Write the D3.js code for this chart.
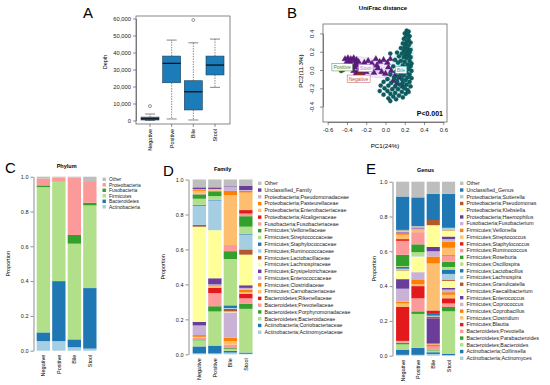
<!DOCTYPE html>
<html>
<head>
<meta charset="utf-8">
<script src="https://cdn.jsdelivr.net/npm/d3@7"></script>
<style>
body { margin: 0; background: #fff; }
svg { font-family: "Liberation Sans", Arial, sans-serif; }
</style>
</head>
<body>
<script>
var width = 550, height = 385;

var groups = ["Negative", "Positive", "Bile", "Stool"];

// A: sequencing depth (boxplot stats)
var depthMin = [0, 900, 300, 19500];
var depthQ1 = [300, 22200, 6200, 26800];
var depthMedian = [1000, 33600, 16900, 32600];
var depthQ3 = [2000, 37900, 23400, 37900];
var depthMax = [3800, 47300, 45700, 47900];
var depthOutliers = [[8500], [], [59100], []];
var depthTicks = [0, 10000, 20000, 30000, 40000, 50000, 60000];

// B: PCoA coordinates [PC1, PC2]
var bilePoints = [
  [0.22,0.43],[0.24,0.42],[0.20,0.40],[0.23,0.39],[0.25,0.37],[0.21,0.36],[0.19,0.34],[0.24,0.33],
  [0.22,0.31],[0.26,0.30],[0.18,0.29],[0.21,0.28],[0.24,0.27],[0.20,0.25],[0.16,0.24],[0.23,0.23],
  [0.26,0.22],[0.19,0.21],[0.22,0.20],[0.25,0.19],[0.17,0.18],[0.21,0.17],[0.24,0.16],[0.14,0.15],
  [0.19,0.14],[0.26,0.14],[0.22,0.13],[0.05,0.18],[0.12,0.19],
  [0.10,0.11],[0.16,0.10],[0.25,0.10],[0.20,0.09],[0.13,0.08],[0.27,0.07],[0.23,0.06],[0.18,0.05],
  [0.08,0.04],[0.26,0.04],[0.21,0.03],[0.14,0.02],[0.24,0.01],[0.19,0.00],[0.27,-0.01],[0.11,-0.02],
  [0.22,-0.03],[0.16,-0.04],[0.25,-0.05],[0.05,-0.05],[0.19,-0.06],[0.13,-0.07],[0.23,-0.08],
  [0.27,-0.09],[0.09,-0.09],[0.02,-0.10],[0.17,-0.10],
  [0.21,-0.11],[0.12,-0.12],[0.25,-0.13],[-0.02,-0.13],[0.06,-0.14],[0.18,-0.14],[0.15,-0.16],
  [0.22,-0.16],[0.03,-0.17],[-0.05,-0.17],[0.10,-0.18],[0.26,-0.18],[0.19,-0.19],[-0.01,-0.20],
  [0.07,-0.21],[0.13,-0.21],[0.23,-0.22],[0.02,-0.23],[-0.06,-0.23],[0.17,-0.24],[0.10,-0.25],
  [0.05,-0.26],[0.21,-0.26],[-0.02,-0.27],[0.14,-0.28],[0.08,-0.29],[0.03,-0.31],[0.18,-0.30],
  [0.11,-0.32],[0.05,-0.34],[0.20,-0.20],[0.24,-0.24]
];
var stoolPoints = [
  [-0.42,0.12],[-0.39,0.13],[-0.36,0.12],[-0.33,0.13],[-0.30,0.11],[-0.40,0.09],[-0.37,0.08],
  [-0.34,0.10],[-0.31,0.07],[-0.28,0.09],[-0.38,0.05],[-0.35,0.04],[-0.32,0.03],[-0.29,0.05],
  [-0.26,0.02],[-0.33,-0.01],[-0.30,-0.03],[-0.27,-0.02],[-0.24,-0.04],[-0.31,-0.05],
  [-0.22,0.08],[-0.18,0.10],[-0.14,0.07],[-0.10,0.12],[-0.06,0.09],[-0.02,0.11],[0.02,0.08],
  [0.05,0.12],[-0.16,0.03],[-0.08,0.02],[-0.20,-0.02],[-0.12,-0.03],[-0.04,-0.02],[0.00,-0.04],
  [0.06,-0.01],[0.10,-0.06],[0.08,-0.12],[0.12,-0.15],[0.15,-0.08],[0.18,-0.18],[-0.09,0.05],
  [0.03,0.03]
];
var negativePoints = [[-0.27,-0.04],[-0.25,-0.05],[-0.28,-0.06]];
var positivePoints = [[-0.46,-0.01],[-0.44,0.0]];
var pc1Ticks = [-0.6, -0.4, -0.2, 0, 0.2, 0.4, 0.6];
var pc2Ticks = [-0.4, -0.2, 0, 0.2, 0.4];

// C: phylum (bottom to top)
var phylumNames = ["Actinobacteria", "Bacteroidetes", "Firmicutes", "Fusobacteria", "Proteobacteria", "Other"];
var phylumNegative = [0.055, 0.05, 0.835, 0.01, 0.04, 0.01];
var phylumPositive = [0.055, 0.345, 0.57, 0.002, 0.023, 0.005];
var phylumBile = [0.02, 0.045, 0.55, 0.05, 0.33, 0.005];
var phylumStool = [0.012, 0.348, 0.475, 0.015, 0.125, 0.025];

// D: family (bottom to top)
var familyNames = [
  "Actinobacteria;Actinomycetaceae", "Actinobacteria;Coriobacteriaceae",
  "Bacteroidetes;Bacteroidaceae", "Bacteroidetes;Porphyromonadaceae",
  "Bacteroidetes;Prevotellaceae", "Bacteroidetes;Rikenellaceae",
  "Firmicutes;Carnobacteriaceae", "Firmicutes;Clostridiaceae",
  "Firmicutes;Enterococcaceae", "Firmicutes;Erysipelotrichaceae",
  "Firmicutes;Lachnospiraceae", "Firmicutes;Lactobacillaceae",
  "Firmicutes;Ruminococcaceae", "Firmicutes;Staphylococcaceae",
  "Firmicutes;Streptococcaceae", "Firmicutes;Veillonellaceae",
  "Fusobacteria;Fusobacteriaceae", "Proteobacteria;Alcaligenaceae",
  "Proteobacteria;Enterobacteriaceae", "Proteobacteria;Pasteurellaceae",
  "Proteobacteria;Pseudomonadaceae", "Unclassified_Family", "Other"
];
var familyNegative = [0.005, 0.04, 0.035, 0.005, 0.01, 0, 0.005, 0.01, 0.055, 0.02, 0.545, 0.01, 0.11, 0.005, 0.035, 0.025, 0.005, 0, 0.015, 0.005, 0.005, 0.01, 0.045];
var familyPositive = [0.005, 0.045, 0.195, 0.03, 0.075, 0.03, 0.01, 0.005, 0.005, 0.035, 0.275, 0, 0.17, 0.003, 0.022, 0.025, 0.002, 0.003, 0.005, 0.003, 0.003, 0.009, 0.045];
var familyBile = [0.01, 0.01, 0.01, 0.005, 0.02, 0, 0.02, 0.02, 0.145, 0, 0.005, 0.015, 0.005, 0.015, 0.265, 0.045, 0.035, 0, 0.285, 0.025, 0.025, 0.003, 0.037];
var familyStool = [0.003, 0.007, 0.25, 0.03, 0.03, 0.025, 0.01, 0.015, 0.01, 0.015, 0.175, 0.03, 0.085, 0.005, 0.04, 0.06, 0.015, 0.02, 0.1, 0.01, 0.005, 0.025, 0.035];

// E: genus (bottom to top)
var genusNames = [
  "Actinobacteria;Actinomyces", "Actinobacteria;Collinsella",
  "Bacteroidetes;Bacteroides", "Bacteroidetes;Parabacteroides",
  "Bacteroidetes;Prevotella", "Firmicutes;Blautia", "Firmicutes;Clostridium",
  "Firmicutes;Coprobacillus", "Firmicutes;Coprococcus", "Firmicutes;Enterococcus",
  "Firmicutes;Faecalibacterium", "Firmicutes;Granulicatella", "Firmicutes;Lachnospira",
  "Firmicutes;Lactobacillus", "Firmicutes;Oscillospira", "Firmicutes;Roseburia",
  "Firmicutes;Ruminococcus", "Firmicutes;Staphylococcus", "Firmicutes;Streptococcus",
  "Firmicutes;Veillonella", "Fusobacteria;Fusobacterium", "Proteobacteria;Haemophilus",
  "Proteobacteria;Klebsiella", "Proteobacteria;Pseudomonas", "Proteobacteria;Sutterella",
  "Unclassified_Genus", "Other"
];
var genusNegative = [0.005, 0.03, 0.03, 0.01, 0.01, 0.195, 0.02, 0.01, 0.075, 0.055, 0.05, 0.003, 0.007, 0.01, 0.005, 0.065, 0.08, 0.01, 0.025, 0.01, 0.003, 0.003, 0.004, 0.005, 0.003, 0.192, 0.085];
var genusPositive = [0.005, 0.04, 0.195, 0.015, 0.075, 0.07, 0.01, 0.025, 0.045, 0, 0.09, 0, 0.003, 0, 0.022, 0.045, 0.07, 0, 0.015, 0.003, 0.003, 0.003, 0.003, 0.005, 0.003, 0.165, 0.09];
var genusBile = [0.01, 0.01, 0.01, 0.005, 0.02, 0.005, 0.005, 0.005, 0, 0.145, 0, 0.01, 0.005, 0.015, 0, 0, 0, 0.015, 0.27, 0.04, 0.03, 0.025, 0.125, 0.03, 0, 0.15, 0.07];
var genusStool = [0.003, 0.007, 0.245, 0.025, 0.02, 0.03, 0.02, 0.015, 0.015, 0.01, 0.04, 0.005, 0.035, 0.025, 0.015, 0.03, 0.035, 0.003, 0.042, 0.035, 0.015, 0.015, 0.035, 0.003, 0.012, 0.195, 0.07];

var propTicks = [0, 0.2, 0.4, 0.6, 0.8, 1.0];

// --------------------------------------------------------

var svg = d3.select("body").append("svg")
    .attr("width", width)
    .attr("height", height);

function letter(t, x, y) {
  svg.append("text").attr("x", x).attr("y", y)
    .attr("font-size", 15).attr("fill", "#000").text(t);
}

function styleAxis(g, fs) {
  g.selectAll("path, line").attr("stroke", "#444").attr("stroke-width", 0.6);
  g.selectAll("text").attr("font-size", fs).attr("fill", "#222")
    .attr("font-family", "Liberation Sans, Arial, sans-serif");
}

// ---------------- A: boxplot ----------------
letter("A", 83, 18);
var xA = d3.scalePoint().domain(groups).range([150, 215]);
var yA = d3.scaleLinear().domain([0, 60000]).range([120.5, 18.5]);
var gA = svg.append("g");
gA.append("rect").attr("x", 136).attr("y", 16).attr("width", 94).attr("height", 108)
  .attr("fill", "none").attr("stroke", "#555").attr("stroke-width", 0.7);
var axA = gA.append("g").attr("transform", "translate(136,0)")
  .call(d3.axisLeft(yA).tickValues(depthTicks).tickFormat(d3.format(",")).tickSize(3).tickSizeOuter(0).tickPadding(2));
styleAxis(axA, 5.8);
gA.append("text").attr("transform", "translate(107,62) rotate(-90)")
  .attr("text-anchor", "middle").attr("font-size", 5.5).text("Depth");

groups.forEach(function(g, i) {
  var cx = xA(g), bw = 18, cap = 5;
  var dash = "1.4,1.2";
  gA.append("line").attr("x1", cx).attr("x2", cx).attr("y1", yA(depthQ3[i])).attr("y2", yA(depthMax[i]))
    .attr("stroke", "#333").attr("stroke-width", 0.6).attr("stroke-dasharray", dash);
  gA.append("line").attr("x1", cx).attr("x2", cx).attr("y1", yA(depthQ1[i])).attr("y2", yA(depthMin[i]))
    .attr("stroke", "#333").attr("stroke-width", 0.6).attr("stroke-dasharray", dash);
  [depthMax[i], depthMin[i]].forEach(function(v) {
    gA.append("line").attr("x1", cx - cap).attr("x2", cx + cap).attr("y1", yA(v)).attr("y2", yA(v))
      .attr("stroke", "#333").attr("stroke-width", 0.6);
  });
  gA.append("rect").attr("x", cx - bw / 2).attr("width", bw)
    .attr("y", yA(depthQ3[i])).attr("height", yA(depthQ1[i]) - yA(depthQ3[i]))
    .attr("fill", "#1c7cba").attr("stroke", "#1d3f57").attr("stroke-width", 0.6);
  gA.append("line").attr("x1", cx - bw / 2).attr("x2", cx + bw / 2)
    .attr("y1", yA(depthMedian[i])).attr("y2", yA(depthMedian[i]))
    .attr("stroke", "#111").attr("stroke-width", 1.3);
  depthOutliers[i].forEach(function(v) {
    gA.append("circle").attr("cx", cx).attr("cy", yA(v)).attr("r", 1.5)
      .attr("fill", "none").attr("stroke", "#333").attr("stroke-width", 0.5);
  });
  gA.append("line").attr("x1", cx).attr("x2", cx).attr("y1", 124).attr("y2", 127)
    .attr("stroke", "#444").attr("stroke-width", 0.6);
  gA.append("text").attr("transform", "translate(" + (cx + 2) + ",129) rotate(-90)")
    .attr("text-anchor", "end").attr("font-size", 5.5).text(g);
});

// ---------------- B: PCoA ----------------
letter("B", 287, 18);
var xB = d3.scaleLinear().domain([-0.6, 0.6]).range([327.7, 443.3]);
var yB = d3.scaleLinear().domain([-0.4, 0.4]).range([106.6, 33.4]);
var gB = svg.append("g");
gB.append("text").attr("x", 383).attr("y", 10).attr("text-anchor", "middle")
  .attr("font-size", 6).attr("font-weight", "bold").text("UniFrac distance");
gB.append("rect").attr("x", 323).attr("y", 24).attr("width", 124).attr("height", 98)
  .attr("fill", "none").attr("stroke", "#555").attr("stroke-width", 0.7);
var axBx = gB.append("g").attr("transform", "translate(0,122)")
  .call(d3.axisBottom(xB).tickValues(pc1Ticks).tickFormat(d3.format(".1f")).tickSize(3).tickSizeOuter(0).tickPadding(3));
styleAxis(axBx, 6);
axBx.selectAll("text").text(function(d) { return d3.format(".1f")(d).replace("−", "-"); });
var axBy = gB.append("g").attr("transform", "translate(323,0)")
  .call(d3.axisLeft(yB).tickValues(pc2Ticks).tickFormat(d3.format(".1f")).tickSize(3).tickSizeOuter(0));
styleAxis(axBy, 6);
axBy.selectAll("text")
  .text(function(d) { return d3.format(".1f")(d).replace("−", "-"); })
  .attr("transform", "rotate(-90)").attr("x", 0).attr("y", -9)
  .attr("dy", 0).attr("text-anchor", "middle");
gB.append("text").attr("x", 385).attr("y", 148).attr("text-anchor", "middle")
  .attr("font-size", 6.2).text("PC1(24%)");
gB.append("text").attr("transform", "translate(303,71) rotate(-90)")
  .attr("text-anchor", "middle").attr("font-size", 6.2).text("PC2(11.3%)");

function centroid(pts) {
  return [d3.mean(pts, function(p) { return p[0]; }), d3.mean(pts, function(p) { return p[1]; })];
}
function ellipsePath(pts, k) {
  var c = centroid(pts);
  var sxx = d3.mean(pts, function(p) { return (p[0] - c[0]) * (p[0] - c[0]); });
  var syy = d3.mean(pts, function(p) { return (p[1] - c[1]) * (p[1] - c[1]); });
  var sxy = d3.mean(pts, function(p) { return (p[0] - c[0]) * (p[1] - c[1]); });
  var tr = sxx + syy, det = sxx * syy - sxy * sxy;
  var l1 = tr / 2 + Math.sqrt(tr * tr / 4 - det), l2 = tr / 2 - Math.sqrt(tr * tr / 4 - det);
  var ang = Math.atan2(l1 - sxx, sxy);
  var a = k * Math.sqrt(l1), b = k * Math.sqrt(Math.max(l2, 0));
  var ring = d3.range(0, 2 * Math.PI + 0.01, Math.PI / 40).map(function(t) {
    var ex = a * Math.cos(t), ey = b * Math.sin(t);
    return [xB(c[0] + ex * Math.cos(ang) - ey * Math.sin(ang)), yB(c[1] + ex * Math.sin(ang) + ey * Math.cos(ang))];
  });
  return d3.line()(ring);
}

var classes = [
  {name: "Stool", pts: stoolPoints, col: "#5c1c80", light: "#dcc4ec", sym: d3.symbolTriangle, label: [-0.205, 0.018], txt: "#a774c6"},
  {name: "Bile", pts: bilePoints, col: "#0d5c5f", light: "#a8e6e8", sym: d3.symbolCircle, label: [0.16, 0.0], txt: "#2a9d9f"},
  {name: "Positive", pts: positivePoints, col: "#2c5e1e", light: "#b9d7ae", sym: d3.symbolCircle, label: [-0.45, 0.027], txt: "#4d8a35"},
  {name: "Negative", pts: negativePoints, col: "#8f2a25", light: "#e7b3ad", sym: d3.symbolCircle, label: [-0.28, -0.097], txt: "#c2504a"}
];
var plotB = gB.append("g");
classes.slice(0, 2).forEach(function(c) {
  plotB.append("path").attr("d", ellipsePath(c.pts, 1.5))
    .attr("fill", c.light).attr("fill-opacity", 0.35).attr("stroke", c.light).attr("stroke-width", 0.6);
});
classes.forEach(function(c) {
  var ct = centroid(c.pts);
  plotB.selectAll(null).data(c.pts).enter().append("line")
    .attr("x1", function(d) { return xB(d[0]); }).attr("y1", function(d) { return yB(d[1]); })
    .attr("x2", xB(ct[0])).attr("y2", yB(ct[1]))
    .attr("stroke", c.light).attr("stroke-width", 0.6);
});
classes.forEach(function(c) {
  plotB.selectAll(null).data(c.pts).enter().append("path")
    .attr("d", d3.symbol().type(c.sym).size(c.sym === d3.symbolTriangle ? 17 : 14))
    .attr("transform", function(d) { return "translate(" + xB(d[0]) + "," + yB(d[1]) + ")"; })
    .attr("fill", c.col).attr("stroke", d3.color(c.col).darker(0.5)).attr("stroke-width", 0.3);
});
classes.forEach(function(c) {
  var t = plotB.append("text").attr("x", xB(c.label[0])).attr("y", yB(c.label[1]) + 1.8)
    .attr("text-anchor", "middle").attr("font-size", 5).attr("fill", c.txt).text(c.name);
  var bb = t.node().getBBox();
  plotB.insert("rect", function() { return t.node(); })
    .attr("x", bb.x - 1.5).attr("y", bb.y - 0.6).attr("width", bb.width + 3).attr("height", bb.height + 1.2)
    .attr("fill", "#fff").attr("stroke", c.txt).attr("stroke-width", 0.5);
});
gB.append("text").attr("x", 443).attr("y", 116).attr("text-anchor", "end")
  .attr("font-size", 7).attr("font-weight", "bold").text("P<0.001");

// ---------------- C, D, E: stacked bars ----------------
function colorFor(i, name) {
  return name === "Other" ? "#bebebe" : d3.schemePaired[i % 12];
}

function stackPanel(cfg) {
  var rows = groups.map(function(g, i) {
    var r = {group: g};
    cfg.names.forEach(function(n, j) { r[n] = cfg.values[i][j]; });
    return r;
  });
  var series = d3.stack().keys(cfg.names)(rows);
  var x = d3.scaleBand().domain(groups).range(cfg.xRange).paddingInner(0.14).paddingOuter(0.07);
  var y = d3.scaleLinear().domain([0, 1]).range(cfg.yRange);
  var g = svg.append("g");

  g.selectAll("g.layer").data(series).enter().append("g")
    .attr("class", "layer")
    .attr("fill", function(d, i) { return colorFor(i, d.key); })
    .selectAll("rect").data(function(d) { return d; }).enter().append("rect")
    .attr("x", function(d) { return x(d.data.group); })
    .attr("width", x.bandwidth())
    .attr("y", function(d) { return y(d[1]); })
    .attr("height", function(d) { return Math.max(0, y(d[0]) - y(d[1])); });

  var ax = g.append("g").attr("transform", "translate(" + cfg.axisX + ",0)")
    .call(d3.axisLeft(y).tickValues(propTicks).tickFormat(d3.format(".1f")).tickSize(3).tickSizeOuter(0).tickPadding(2));
  styleAxis(ax, 5.5);

  g.append("text").attr("transform", "translate(" + cfg.ylabX + "," + ((cfg.yRange[0] + cfg.yRange[1]) / 2) + ") rotate(-90)")
    .attr("text-anchor", "middle").attr("font-size", 5.5).text("Proportion");
  g.append("text").attr("x", (cfg.xRange[0] + cfg.xRange[1]) / 2).attr("y", cfg.titleY)
    .attr("text-anchor", "middle").attr("font-size", 5.5).attr("font-weight", "bold").text(cfg.title);

  groups.forEach(function(gr) {
    g.append("text")
      .attr("transform", "translate(" + (x(gr) + x.bandwidth() / 2 + 2) + "," + (cfg.yRange[0] + 4) + ") rotate(-90)")
      .attr("text-anchor", "end").attr("font-size", 5.5).text(gr);
  });

  var legendNames = cfg.names.slice().reverse();
  var n = cfg.names.length;
  var lg = g.append("g");
  legendNames.forEach(function(name, k) {
    var cy = cfg.legendY + k * cfg.legendStep;
    lg.append("rect").attr("x", cfg.legendX).attr("y", cy - 1.7).attr("width", 3.4).attr("height", 3.4)
      .attr("fill", colorFor(n - 1 - k, name));
    lg.append("text").attr("x", cfg.legendX + 6.5).attr("y", cy + 1.8)
      .attr("font-size", cfg.legendFont).attr("fill", "#222").text(name);
  });
}

letter("C", 5, 173);
stackPanel({
  names: phylumNames,
  values: [phylumNegative, phylumPositive, phylumBile, phylumStool],
  xRange: [35.6, 97.6], yRange: [350.7, 176.7], axisX: 33.5, ylabX: 10,
  title: "Phylum", titleY: 168,
  legendX: 102.5, legendY: 179.3, legendStep: 5.5, legendFont: 4.9
});

letter("D", 163, 176);
stackPanel({
  names: familyNames,
  values: [familyNegative, familyPositive, familyBile, familyStool],
  xRange: [191.6, 253.6], yRange: [354.3, 179.5], axisX: 188.5, ylabX: 165,
  title: "Family", titleY: 170.5,
  legendX: 258, legendY: 183.3, legendStep: 6.77, legendFont: 5.3
});

letter("E", 366, 174);
stackPanel({
  names: genusNames,
  values: [genusNegative, genusPositive, genusBile, genusStool],
  xRange: [395, 456.2], yRange: [355.7, 181.7], axisX: 392.5, ylabX: 376,
  title: "Genus", titleY: 172,
  legendX: 460, legendY: 183.3, legendStep: 6.73, legendFont: 5.3
});
</script>
</body>
</html>
